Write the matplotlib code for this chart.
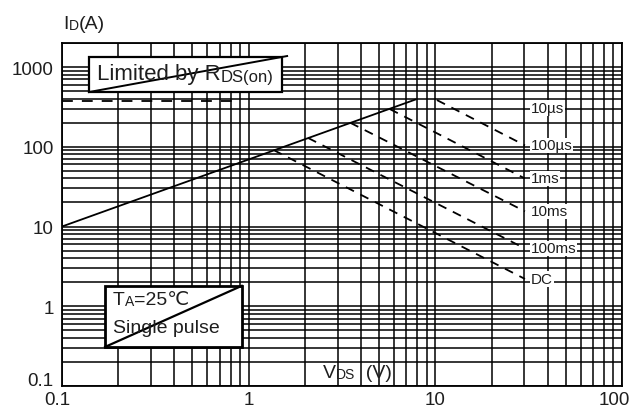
import matplotlib
import matplotlib.pyplot as plt
import numpy as np
from matplotlib.patches import Rectangle
from matplotlib.ticker import FixedLocator, LogLocator, NullFormatter
from matplotlib.transforms import ScaledTranslation

matplotlib.use("Agg")

plt.rcParams["font.family"] = ["Liberation Sans", "DejaVu Sans"]

TEXT = "#1e1e1e"

# on-resistance limit (VDS, ID)
rds_v = [0.1, 7.8]
rds_a = [10, 390]

# current limit shown as a dashed level on the left
ipulse_v = [0.1, 0.85]
ipulse_a = [370, 370]

# pulse-width boundaries: start on the RDS line, end at 30 V
pulse_start_v = [10.2, 5.7, 3.5, 2.08, 1.36]
pulse_start_a = [385, 297, 200, 129, 91]
pulse_end_v = [30.2, 30.2, 30.2, 30.2, 30.2]
pulse_end_a = [104, 40, 15.5, 5.3, 2.2]

pulse_labels = ["10µs", "100µs", "1ms", "10ms", "100ms", "DC"]
pulse_label_v = 32.5
pulse_label_a = [305, 104, 40, 15.5, 5.3, 2.2]

x_ticks = [0.1, 1, 10, 100]
x_tick_labels = ["0.1", "1", "10", "100"]
y_ticks = [0.1, 1, 10, 100, 1000]
y_tick_labels = ["0.1", "1", "10", "100", "1000"]


def split_text(ax, x, y, parts, transform, zorder=5):
    """Draw (string, size) pieces one after another on a shared baseline."""
    first, size = parts[0]
    prev = ax.text(x, y, first, transform=transform, fontsize=size,
                   color=TEXT, ha="left", va="baseline", zorder=zorder)
    for s, size in parts[1:]:
        prev = ax.annotate(s, xy=(1, 0), xycoords=prev, fontsize=size,
                           color=TEXT, ha="left", va="bottom", zorder=zorder)
    return prev


fig = plt.figure(figsize=(6.32, 4.10), dpi=100)
ax = fig.add_axes([62 / 632, 1 - 387 / 410, 560 / 632, 343 / 410])

ax.set_xscale("log")
ax.set_yscale("log")
ax.set_xlim(0.1, 100)
ax.set_ylim(0.1, 2000)

ax.xaxis.set_major_locator(FixedLocator(x_ticks))
ax.yaxis.set_major_locator(FixedLocator(y_ticks))
ax.xaxis.set_minor_locator(LogLocator(base=10, subs=np.arange(2, 10)))
ax.yaxis.set_minor_locator(LogLocator(base=10, subs=np.arange(2, 10)))
ax.xaxis.set_minor_formatter(NullFormatter())
ax.yaxis.set_minor_formatter(NullFormatter())
ax.set_xticklabels(x_tick_labels)
ax.set_yticklabels(y_tick_labels)
ax.tick_params(which="both", length=0, labelsize=13.5, labelcolor=TEXT)
ax.tick_params(axis="y", pad=6)
ax.tick_params(axis="x", pad=3.5)

ax.grid(which="both", color="black", linewidth=1.1)
ax.set_axisbelow(True)
for spine in ax.spines.values():
    spine.set_linewidth(1.3)

# nudge the corner labels so they don't collide
dx = fig.dpi_scale_trans
xl = ax.get_xticklabels()
xl[0].set_transform(xl[0].get_transform() + ScaledTranslation(-5 / 100, 0, dx))
xl[-1].set_transform(xl[-1].get_transform() + ScaledTranslation(-8 / 100, 0, dx))
yl = ax.get_yticklabels()
yl[0].set_transform(yl[0].get_transform() + ScaledTranslation(0, 7 / 100, dx))

ax.plot(rds_v, rds_a, color="black", linewidth=1.3, zorder=3)
ax.plot(ipulse_v, ipulse_a, color="black", linewidth=1.3, zorder=3,
        dashes=(6, 5))
for v0, a0, v1, a1 in zip(pulse_start_v, pulse_start_a, pulse_end_v, pulse_end_a):
    ax.plot([v0, v1], [a0, a1], color="black", linewidth=1.3, zorder=3,
            dashes=(5, 4))

for lab, a in zip(pulse_labels, pulse_label_a):
    ax.text(pulse_label_v, a, lab, fontsize=11, color=TEXT, ha="left",
            va="center", zorder=4,
            bbox=dict(facecolor="white", edgecolor="none", pad=0.6))

# "Limited by RDS(on)" box
ta = ax.transAxes
ax.add_patch(Rectangle((0.048, 0.857), 0.345, 0.102, transform=ta,
                       facecolor="white", edgecolor="black", linewidth=1.6,
                       zorder=4))
ax.plot([0.048, 0.402], [0.857, 0.962], transform=ta, color="black",
        linewidth=1.4, zorder=5, clip_on=False)
split_text(ax, 0.063, 0.895, [("Limited by R", 16), ("DS(on)", 12)], ta)

# ambient / pulse note box
ax.add_patch(Rectangle((0.077, 0.114), 0.244, 0.178, transform=ta,
                       facecolor="white", edgecolor="black", linewidth=2.0,
                       zorder=4))
ax.plot([0.077, 0.321], [0.114, 0.292], transform=ta, color="black",
        linewidth=1.6, zorder=5)
split_text(ax, 0.091, 0.239, [("T", 14), ("A", 10), ("=25℃", 14)], ta)
ax.text(0.091, 0.157, "Single pulse", transform=ta, fontsize=14, color=TEXT,
        ha="left", va="baseline", zorder=5)

# axis captions
split_text(ax, 0.466, 0.026, [("V", 14), ("DS", 10), ("  (V)", 14)], ta)
split_text(ax, 0.002, 1.045, [("I", 14), ("D", 10), ("(A)", 14)], ta)

fig.savefig("out.png", dpi=100)
